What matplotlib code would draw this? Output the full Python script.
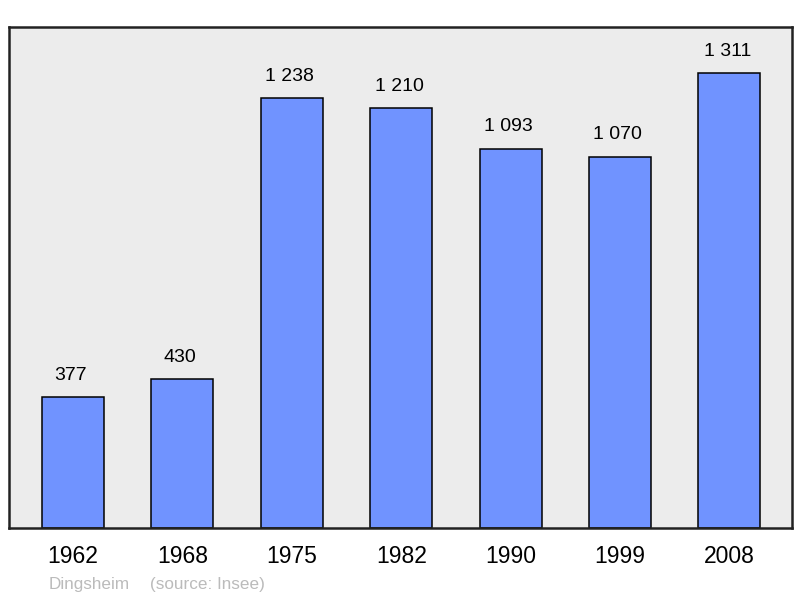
import matplotlib
matplotlib.use("Agg")
import matplotlib.pyplot as plt

years = ["1962", "1968", "1975", "1982", "1990", "1999", "2008"]
population = [377, 430, 1238, 1210, 1093, 1070, 1311]
value_labels = ["377", "430", "1 238", "1 210", "1 093", "1 070", "1 311"]

plt.rcParams["font.family"] = ["Liberation Sans", "DejaVu Sans"]

W, H = 800, 598
fig = plt.figure(figsize=(W / 100, H / 100), dpi=100)

# axes box in pixel coordinates of the frame
left, right, top, bottom = 9, 792, 27, 528
ax = fig.add_axes([left / W, 1 - bottom / H, (right - left) / W, (bottom - top) / H])
ax.set_facecolor("#ececec")

x = list(range(len(years)))
ax.bar(x, population, width=0.567, color="#7093ff", edgecolor="black",
       linewidth=1.1, zorder=2)

for xi, v, lab in zip(x, population, value_labels):
    ax.annotate(lab, (xi, v), xytext=(-1.5, 9.5), textcoords="offset points",
                ha="center", va="bottom", fontsize=14, color="black")

ax.set_xlim(-0.585, 6.572)
ax.set_ylim(0, 1443)
ax.set_yticks([])
ax.set_xticks(x)
ax.set_xticklabels(years, fontsize=16.5)
ax.tick_params(axis="x", length=0, pad=12)

for s in ax.spines.values():
    s.set_linewidth(1.8)
    s.set_color("#222222")

fig.text(49 / W, 1 - 584 / H, "Dingsheim", fontsize=12.3,
         color="#bbbbbb", ha="left", va="center")
fig.text(150 / W, 1 - 584 / H, "(source: Insee)", fontsize=12.3,
         color="#bbbbbb", ha="left", va="center")

fig.savefig("out.png", dpi=100)
